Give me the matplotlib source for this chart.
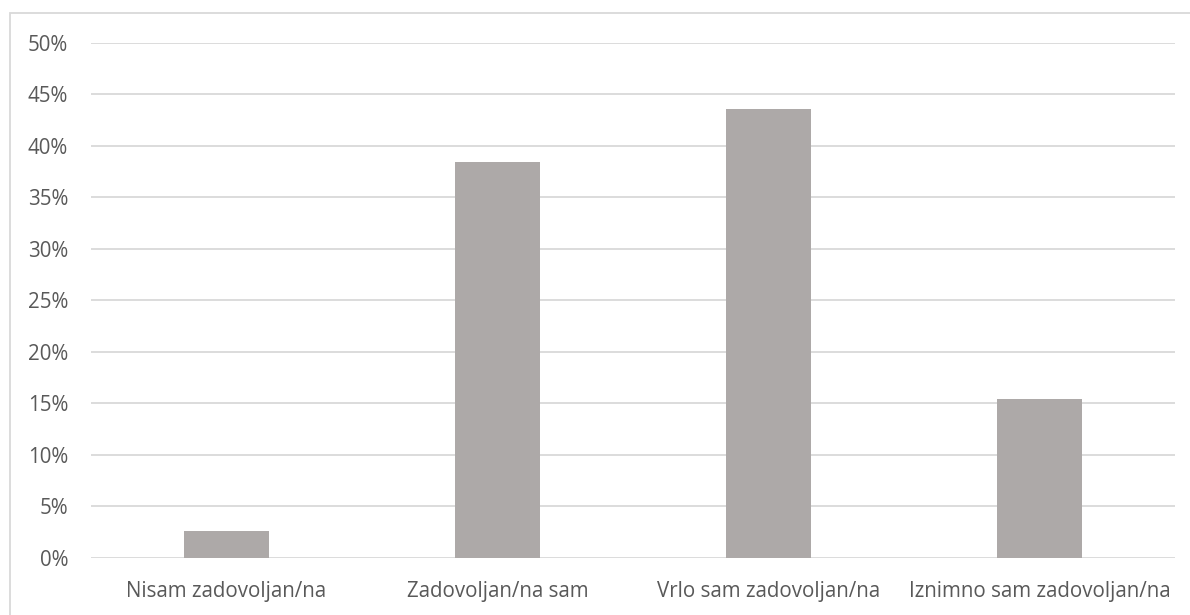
import matplotlib
matplotlib.use("Agg")
import matplotlib.pyplot as plt
from matplotlib.patches import Rectangle
from matplotlib.ticker import FuncFormatter

# survey answers and their shares
categories = ["Nisam zadovoljan/na", "Zadovoljan/na sam", "Vrlo sam zadovoljan/na", "Iznimno sam zadovoljan/na"]
shares = [0.0256, 0.3846, 0.4359, 0.1538]
yticks = [0, 0.05, 0.10, 0.15, 0.20, 0.25, 0.30, 0.35, 0.40, 0.45, 0.50]

text_col = "#595959"
plt.rcParams['font.family'] = ['Open Sans', 'DejaVu Sans']

fig = plt.figure(figsize=(11.9, 6.15), dpi=100)
ax = fig.add_axes([91/1190, 1 - 557.7/615, (1175-91)/1190, (557.7-42.7)/615])

x = range(len(categories))
ax.bar(x, shares, width=0.314, color="#ADA9A8", zorder=3)

ax.set_xlim(-0.5, len(categories) - 0.5)
ax.set_ylim(0, 0.5)
ax.set_yticks(yticks)
ax.yaxis.set_major_formatter(FuncFormatter(lambda v, p: "%d%%" % round(v * 100)))
ax.set_xticks(list(x))
ax.set_xticklabels(categories)
ax.tick_params(axis='both', length=0, labelsize=14.8, colors=text_col)
ax.tick_params(axis='y', pad=16.5)
ax.tick_params(axis='x', pad=16.5)
ax.grid(axis='y', color="#D9D9D9", linewidth=1.3, zorder=0)
for s in ax.spines.values():
    s.set_visible(False)

# outer chart border
fig.patches.append(Rectangle((10/1190, -0.05), 1.2, 1 - 13/615 + 0.05, transform=fig.transFigure,
                             fill=False, edgecolor="#D9D9D9", linewidth=1.3))

fig.savefig("out.png", dpi=100)
